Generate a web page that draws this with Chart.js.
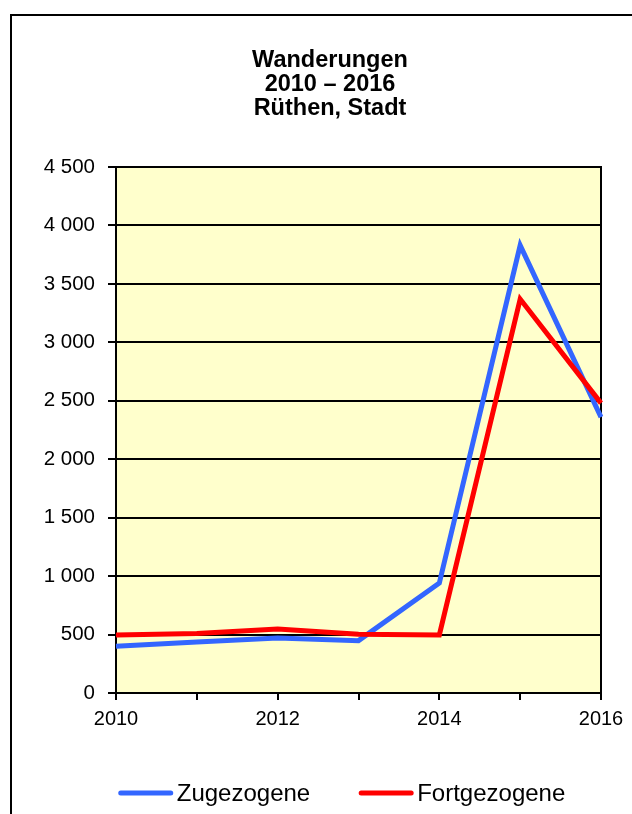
<!DOCTYPE html>
<html>
<head>
<meta charset="utf-8">
<script src="https://cdn.jsdelivr.net/npm/chart.js@4/dist/chart.umd.min.js"></script>
<style>
  html, body { margin: 0; padding: 0; background: #fff; overflow: hidden; }
  #frame { position: absolute; left: 10px; top: 14px; width: 700px; height: 900px; border: 2px solid #000; box-sizing: border-box; }
  #wrap { position: absolute; left: 0; top: 0; width: 632px; height: 814px; }
</style>
</head>
<body>
<div id="frame"></div>
<div id="wrap"><canvas id="chart" width="632" height="814"></canvas></div>
<script>
const years = ['2010', '2011', '2012', '2013', '2014', '2015', '2016'];
const zugezogene = [400, 437, 470, 448, 940, 3830, 2360];
const fortgezogene = [497, 510, 548, 502, 497, 3370, 2480];
const titleLines = ['Wanderungen', '2010 – 2016', 'Rüthen, Stadt'];
const seriesNames = ['Zugezogene', 'Fortgezogene'];

const FONT = "'Liberation Sans', Arial, sans-serif";

// yellow plot background and the black frame around it
const plotFrame = {
    id: 'plotFrame',
    beforeDraw(chart) {
        const a = chart.chartArea, ctx = chart.ctx;
        ctx.save();
        ctx.fillStyle = '#FFFFCC';
        ctx.fillRect(a.left, a.top, a.right - a.left, a.bottom - a.top);
        ctx.restore();
    },
    beforeDatasetsDraw(chart) {
        const a = chart.chartArea, ctx = chart.ctx;
        ctx.save();
        ctx.strokeStyle = '#000';
        ctx.lineWidth = 2;
        ctx.strokeRect(a.left, a.top, a.right - a.left, a.bottom - a.top);
        ctx.restore();
    }
};

// three-line bold title, centred as in the original
const titleBlock = {
    id: 'titleBlock',
    afterDraw(chart) {
        const ctx = chart.ctx;
        ctx.save();
        ctx.font = 'bold 23.5px ' + FONT;
        ctx.fillStyle = '#000';
        ctx.textAlign = 'center';
        ctx.textBaseline = 'alphabetic';
        titleLines.forEach((t, i) => ctx.fillText(t, 330, 67 + i * 24));
        ctx.restore();
    }
};

// legend drawn as in the original: line sample close to its text
const lineLegend = {
    id: 'lineLegend',
    afterDraw(chart) {
        const ctx = chart.ctx;
        const y = 793, sample = 54, gap = 4, between = 49;
        ctx.save();
        ctx.font = '24px ' + FONT;
        ctx.textBaseline = 'middle';
        const items = chart.data.datasets.map(ds => ({
            text: ds.label, color: ds.borderColor, w: ctx.measureText(ds.label).width
        }));
        let total = items.reduce((s, it) => s + sample + gap + it.w, 0) + between * (items.length - 1);
        let x = 342 - total / 2;
        items.forEach(it => {
            ctx.strokeStyle = it.color;
            ctx.lineWidth = 5;
            ctx.lineCap = 'round';
            ctx.beginPath();
            ctx.moveTo(x + 2, y);
            ctx.lineTo(x + sample - 2, y);
            ctx.stroke();
            ctx.fillStyle = '#000';
            ctx.fillText(it.text, x + sample + gap, y + 1);
            x += sample + gap + it.w + between;
        });
        ctx.restore();
    }
};

new Chart(document.getElementById('chart'), {
    type: 'line',
    data: {
        labels: years,
        datasets: [{
            label: seriesNames[0],
            data: zugezogene,
            borderColor: '#3366FF',
            borderWidth: 5,
            pointRadius: 0,
            tension: 0,
            order: 1
        }, {
            label: seriesNames[1],
            data: fortgezogene,
            borderColor: '#FF0000',
            borderWidth: 5,
            pointRadius: 0,
            tension: 0,
            order: 0
        }]
    },
    options: {
        responsive: false,
        animation: false,
        layout: { padding: { left: 0, right: 31, top: 167, bottom: 71 } },
        plugins: {
            legend: { display: false },
            tooltip: { enabled: false },
            title: { display: false }
        },
        scales: {
            x: {
                offset: false,
                grid: { drawOnChartArea: false, drawTicks: true, tickLength: 7, color: '#000', lineWidth: 2 },
                border: { display: true, color: '#000', width: 2 },
                ticks: {
                    color: '#000', font: { family: FONT, size: 20 }, padding: 7,
                    autoSkip: false, maxRotation: 0,
                    callback: (v, i) => (i % 2 === 0 ? years[i] : '')
                },
                afterFit(scale) { scale.height = 50; }
            },
            y: {
                min: 0, max: 4500,
                grid: { color: '#000', lineWidth: 2, drawTicks: true, tickLength: 8 },
                border: { display: true, color: '#000', width: 2 },
                ticks: {
                    stepSize: 500, color: '#000', font: { family: FONT, size: 20.5 }, padding: 13,
                    callback: v => String(v).replace(/\B(?=(\d{3})+(?!\d))/g, ' ')
                },
                afterFit(scale) { scale.width = 116; }
            }
        }
    },
    plugins: [plotFrame, titleBlock, lineLegend]
});
</script>
</body>
</html>
